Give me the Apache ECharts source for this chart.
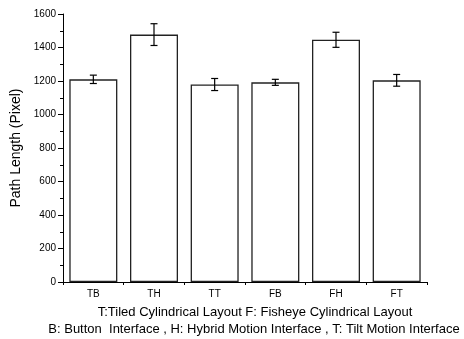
<!DOCTYPE html>
<html>
<head>
<meta charset="utf-8">
<script src="https://cdn.jsdelivr.net/npm/echarts@6/dist/echarts.min.js"></script>
<style>html,body{margin:0;padding:0;background:#fff}#c{width:464px;height:339px}</style>
</head>
<body>
<div id="c"></div>
<script>
var categories = ['TB', 'TH', 'TT', 'FB', 'FH', 'FT'];
var meanValues = [1210, 1477, 1179, 1192, 1446, 1204];
var errorValues = [25, 65, 36, 18, 45, 35];
var yTicks = { min: 0, max: 1600, interval: 200 };
var yAxisTitle = 'Path Length (Pixel)';
var noteLine1 = 'T:Tiled Cylindrical Layout F: Fisheye Cylindrical Layout';
var noteLine2 = 'B: Button  Interface , H: Hybrid Motion Interface , T: Tilt Motion Interface';

var font = 'Liberation Sans, Arial, sans-serif';
var chart = echarts.init(document.getElementById('c'), null, { renderer: 'canvas' });

var errData = categories.map(function (c, i) {
  return [i, meanValues[i] - errorValues[i], meanValues[i] + errorValues[i]];
});

chart.setOption({
  animation: false,
  backgroundColor: '#fff',
  grid: { left: 63, right: 37, top: 14, bottom: 57 },
  xAxis: [{
    type: 'category',
    data: categories,
    boundaryGap: true,
    axisLine: { lineStyle: { color: '#000', width: 1 } },
    axisTick: { alignWithLabel: true, length: 5, lineStyle: { color: '#000' } },
    axisLabel: { color: '#000', fontFamily: font, fontSize: 10, margin: 7 },
    splitLine: { show: false }
  }, {
    type: 'value',
    min: 0, max: 6, interval: 1,
    position: 'bottom',
    axisLine: { show: false },
    axisTick: { show: true, length: 3, lineStyle: { color: '#000' } },
    axisLabel: { show: false },
    splitLine: { show: false }
  }],
  yAxis: {
    type: 'value',
    min: yTicks.min, max: yTicks.max, interval: yTicks.interval,
    name: yAxisTitle,
    nameLocation: 'middle',
    nameGap: 37,
    nameTextStyle: { color: '#000', fontFamily: font, fontSize: 14 },
    axisLine: { show: true, lineStyle: { color: '#000', width: 1 } },
    axisTick: { show: true, length: 5, lineStyle: { color: '#000' } },
    minorTick: { show: true, splitNumber: 2, length: 3, lineStyle: { color: '#000' } },
    axisLabel: { color: '#000', fontFamily: font, fontSize: 10, margin: 7,
      formatter: function (v) { return String(v); } },
    splitLine: { show: false }
  },
  series: [{
    type: 'bar',
    data: meanValues,
    barWidth: 48,
    itemStyle: { color: '#fff', borderColor: '#222', borderWidth: 1.3 }
  }, {
    type: 'custom',
    data: errData,
    z: 10,
    renderItem: function (params, api) {
      var x = api.value(0);
      var lo = api.coord([x, api.value(1)]);
      var hi = api.coord([x, api.value(2)]);
      var hw = 3.5;
      var st = { stroke: '#000', lineWidth: 1.2 };
      return {
        type: 'group',
        children: [
          { type: 'line', shape: { x1: lo[0], y1: lo[1], x2: hi[0], y2: hi[1] }, style: st },
          { type: 'line', shape: { x1: lo[0] - hw, y1: lo[1], x2: lo[0] + hw, y2: lo[1] }, style: st },
          { type: 'line', shape: { x1: hi[0] - hw, y1: hi[1], x2: hi[0] + hw, y2: hi[1] }, style: st }
        ]
      };
    }
  }],
  graphic: [{
    type: 'text',
    style: { text: noteLine1, fill: '#000', font: '13px ' + font, x: 255, y: 312, align: 'center', verticalAlign: 'middle' }
  }, {
    type: 'text',
    style: { text: noteLine2, fill: '#000', font: '13px ' + font, x: 254, y: 329, align: 'center', verticalAlign: 'middle' }
  }]
});
</script>
</body>
</html>
